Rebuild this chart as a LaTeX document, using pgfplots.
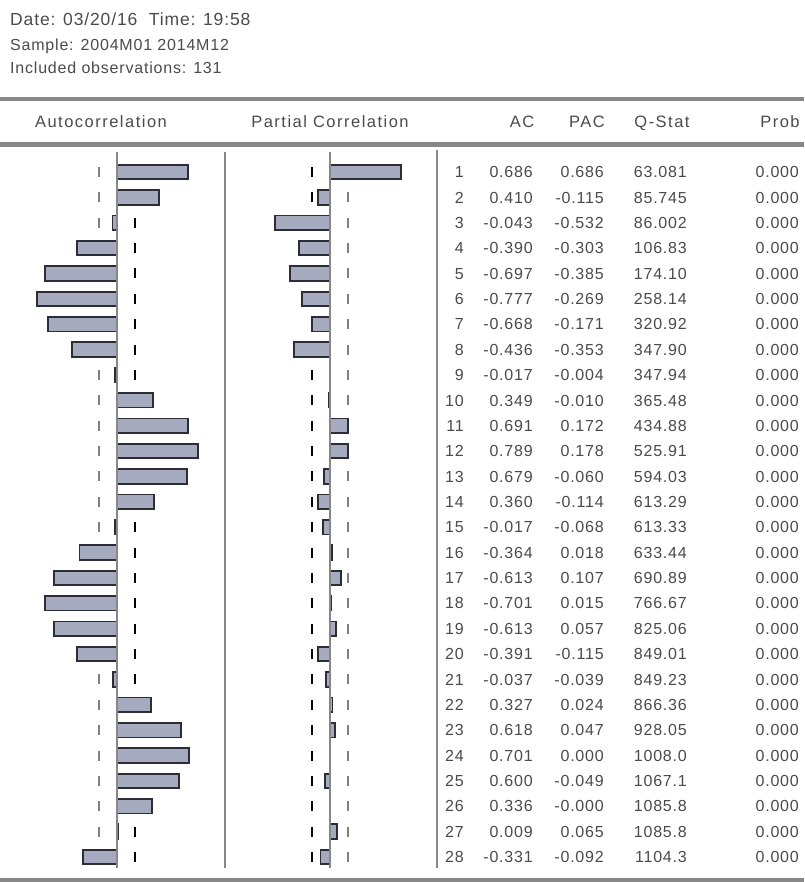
\documentclass[border=0pt]{standalone}
\usepackage{fontspec}
\setmainfont{Liberation Sans}[LetterSpace=5]
\newfontfamily\headfont{Liberation Sans}[LetterSpace=9]
\usepackage{pgfplots}
\usepackage{pgfplotstable}
\pgfplotsset{compat=1.18}

\definecolor{barfill}{RGB}{166,170,190}
\definecolor{baredge}{RGB}{45,45,55}
\definecolor{rulegray}{RGB}{135,135,135}
\definecolor{txt}{RGB}{75,75,75}

% Correlogram of the series: lag, AC, PAC, Q-statistic, p-value
\pgfplotstableread{
lag ac pac q prob
1 0.686 0.686 63.081 0.000
2 0.410 -0.115 85.745 0.000
3 -0.043 -0.532 86.002 0.000
4 -0.390 -0.303 106.83 0.000
5 -0.697 -0.385 174.10 0.000
6 -0.777 -0.269 258.14 0.000
7 -0.668 -0.171 320.92 0.000
8 -0.436 -0.353 347.90 0.000
9 -0.017 -0.004 347.94 0.000
10 0.349 -0.010 365.48 0.000
11 0.691 0.172 434.88 0.000
12 0.789 0.178 525.91 0.000
13 0.679 -0.060 594.03 0.000
14 0.360 -0.114 613.29 0.000
15 -0.017 -0.068 613.33 0.000
16 -0.364 0.018 633.44 0.000
17 -0.613 0.107 690.89 0.000
18 -0.701 0.015 766.67 0.000
19 -0.613 0.057 825.06 0.000
20 -0.391 -0.115 849.01 0.000
21 -0.037 -0.039 849.23 0.000
22 0.327 0.024 866.36 0.000
23 0.618 0.047 928.05 0.000
24 0.701 0.000 1008.0 0.000
25 0.600 -0.049 1067.1 0.000
26 0.336 -0.000 1085.8 0.000
27 0.009 0.065 1085.8 0.000
28 -0.331 -0.092 1104.3 0.000
}\corr

\pgfplotsset{
  corrpanel/.style={
    hide axis, scale only axis, clip=false,
    width=206pt, height=710.36pt,
    xmin=-1, xmax=1, ymin=0.5, ymax=28.5, y dir=reverse,
    anchor=center,
  },
  % +-2/sqrt(T) bounds, one short dash per lag
  band/.style={line width=#1, dash pattern=on 10pt off 15.37pt, dash phase=17.69pt},
  corrbar/.style={xbar, bar width=14.5pt, bar shift=0pt, fill=barfill, draw=baredge, line width=1.8pt},
}

\begin{document}
\begin{tikzpicture}[x=1pt,y=1pt]
\useasboundingbox (0,0) rectangle (804,-882);
\fill[white] (0,0) rectangle (804,-882);

% run information
\begin{scope}[every node/.style={anchor=base west, inner sep=0pt, text=txt}]
\node[font=\fontsize{17.5}{20}\selectfont] at (10,-26) {Date: 03/20/16\ \ Time: 19:58};
\node[font=\fontsize{16}{19}\selectfont] at (10,-51) {Sample: 2004M01 2014M12};
\node[font=\fontsize{16}{19}\selectfont] at (10,-74) {Included observations: 131};
\end{scope}

% rules
\fill[rulegray] (0,-97) rectangle (804,-101.5);
\fill[rulegray] (0,-142.5) rectangle (804,-147);
\fill[rulegray] (0,-878) rectangle (804,-882);

% column headings
\begin{scope}[every node/.style={anchor=base, inner sep=0pt, text=txt, font=\headfont\fontsize{16.5}{19}\selectfont}]
\node at (101,-128) {Autocorrelation};
\node at (330,-128) {Partial Correlation};
\node at (522,-128) {AC};
\node at (587,-128) {PAC};
\node at (662,-128) {Q-Stat};
\node at (780,-128) {Prob};
\end{scope}

% panel separators
\draw[rulegray, line width=2pt] (225,-152) -- (225,-868);
\draw[rulegray, line width=2pt] (437,-150) -- (437,-868);

% autocorrelation panel
\begin{axis}[corrpanel, at={(117pt,-514.5pt)}]
\addplot[band=2.2pt, color=gray] coordinates {(-0.175,0.5) (-0.175,28.5)};
\addplot[band=2.8pt, color=black] coordinates {(0.175,0.5) (0.175,28.5)};
\addplot[corrbar] table[x=ac, y=lag] {\corr};
\addplot[rulegray, line width=2pt] coordinates {(0,0.22) (0,28.45)};
\end{axis}

% partial correlation panel
\begin{axis}[corrpanel, at={(330pt,-514.5pt)}]
\addplot[band=2.8pt, color=black] coordinates {(-0.175,0.5) (-0.175,28.5)};
\addplot[band=2.2pt, color=gray] coordinates {(0.175,0.5) (0.175,28.5)};
\addplot[corrbar] table[x=pac, y=lag] {\corr};
\addplot[rulegray, line width=2pt] coordinates {(0,0.22) (0,28.45)};
\end{axis}

% numeric columns
\foreach \r in {0,...,27} {
  \pgfmathsetmacro\yb{-(172+\r*25.37)-5.7}
  \pgfplotstablegetelem{\r}{lag}\of\corr \let\vlag\pgfplotsretval
  \pgfplotstablegetelem{\r}{ac}\of\corr \let\vac\pgfplotsretval
  \pgfplotstablegetelem{\r}{pac}\of\corr \let\vpac\pgfplotsretval
  \pgfplotstablegetelem{\r}{q}\of\corr \let\vq\pgfplotsretval
  \pgfplotstablegetelem{\r}{prob}\of\corr \let\vprob\pgfplotsretval
  \begin{scope}[every node/.style={anchor=base east, inner sep=0pt, text=txt, font=\fontsize{16}{19}\selectfont}]
    \node at (464,\yb) {\vlag};
    \node at (533,\yb) {\vac};
    \node at (604,\yb) {\vpac};
    \node at (687,\yb) {\vq};
    \node at (799,\yb) {\vprob};
  \end{scope}
}
\end{tikzpicture}
\end{document}
